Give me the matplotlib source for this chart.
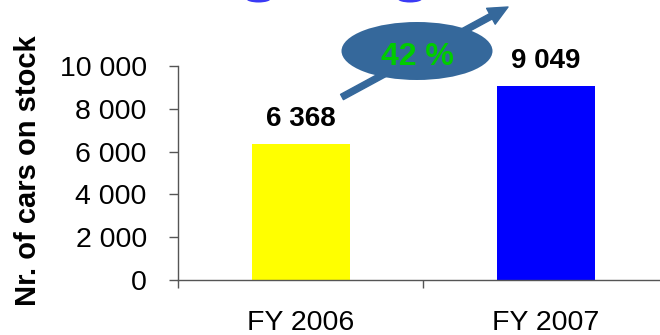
import matplotlib.pyplot as plt
from matplotlib.patches import Ellipse, FancyArrowPatch

plt.rcParams['font.family'] = ['Liberation Sans', 'DejaVu Sans']

# Cars on stock per fiscal year
years = ['FY 2006', 'FY 2007']
cars = [6368, 9049]
bar_colors = ['#FFFF00', '#0000FF']
growth_label = '42 %'

fig = plt.figure(figsize=(6.6, 3.35), dpi=100)
ax = fig.add_axes([178 / 660, 55 / 335, 490 / 660, 214 / 335])

pos = [i + 0.5 for i in range(len(years))]
ax.bar(pos, cars, width=0.4, color=bar_colors, zorder=2)

for x, v in zip(pos, cars):
    label = f'{v:,}'.replace(',', ' ')
    ax.annotate(label, (x, v), xytext=(0, 13), textcoords='offset points',
                ha='center', va='baseline', fontsize=20, fontweight='bold')

# Axes styling
ax.set_xlim(0, len(years))
ax.set_ylim(0, 10000)
ax.set_yticks(range(0, 10001, 2000))
ax.set_yticklabels([f'{t:,}'.replace(',', ' ') for t in range(0, 10001, 2000)])
ax.set_xticks(range(len(years) + 1))
ax.set_xticklabels([])
ax.set_xticks(pos, minor=True)
ax.set_xticklabels(years, minor=True)
ax.tick_params(axis='x', which='minor', length=0, pad=21.5, labelsize=20.5)
ax.tick_params(axis='x', which='major', direction='out', length=6, width=1, color='#555555')
ax.tick_params(axis='y', direction='out', length=6.5, width=1, color='#555555',
               pad=16, labelsize=20.5)
for s in ['top', 'right']:
    ax.spines[s].set_visible(False)
for s in ['left', 'bottom']:
    ax.spines[s].set_color('#555555')
    ax.spines[s].set_linewidth(1)

fig.text(28 / 660, 1 - 171 / 335, 'Nr. of cars on stock', rotation=90,
         ha='center', va='center', fontsize=21, fontweight='bold')

# Growth arrow with the ellipse badge on top
arrow = FancyArrowPatch((342 / 660, 1 - 97 / 335), (508 / 660, 1 - 7 / 335),
                        transform=fig.transFigure, shrinkA=0, shrinkB=0,
                        arrowstyle='simple,head_length=14,head_width=13,tail_width=4.3',
                        color='#35689B', zorder=5)
fig.add_artist(arrow)
badge = Ellipse((417 / 660, 1 - 51 / 335), 151 / 660, 58 / 335,
                transform=fig.transFigure, facecolor='#35689B', edgecolor='none', zorder=6)
fig.add_artist(badge)
fig.text(417 / 660, 1 - 65 / 335, growth_label, ha='center', va='baseline',
         fontsize=23, fontweight='bold', color='#00CC00', zorder=7)

# bottoms of the heading letters peeking in at the top edge
for cx in (258.5, 410):
    fig.add_artist(Ellipse((cx / 660, 1 + 1 / 335), 24 / 660, 7 / 335,
                           transform=fig.transFigure, facecolor='#3A3AF5',
                           edgecolor='none'))

fig.savefig('out.png', dpi=100)
